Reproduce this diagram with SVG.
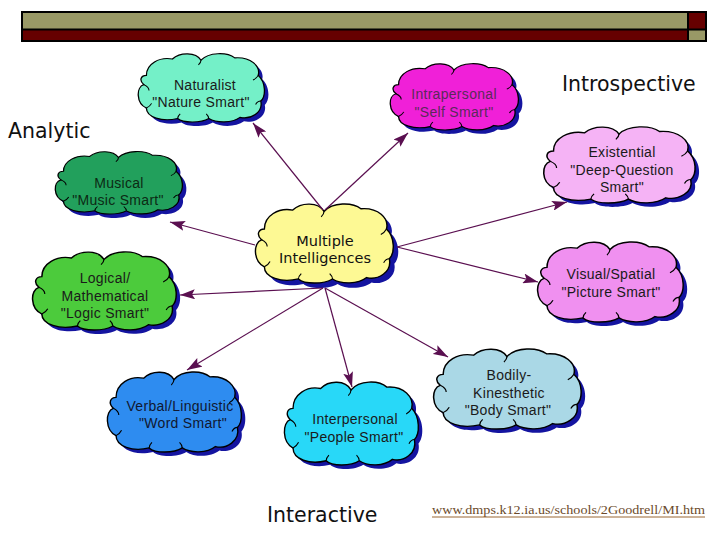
<svg xmlns="http://www.w3.org/2000/svg" xmlns:xlink="http://www.w3.org/1999/xlink" width="720" height="540" viewBox="0 0 720 540">
<style>
.cb{stroke:#000000;stroke-width:1;vector-effect:non-scaling-stroke}
.sh{fill:#1414a0;stroke:none}
.cr{fill:none;stroke:#000000;stroke-width:0.8;vector-effect:non-scaling-stroke}
.t{font-family:"Liberation Sans",Arial,sans-serif;font-size:14px;fill:#1a1a1a;text-anchor:middle;letter-spacing:0.3px}
.big{font-family:"DejaVu Sans",Verdana,sans-serif;font-size:20.5px;fill:#111111}
.mi{font-family:"DejaVu Sans",Verdana,sans-serif;font-size:14.5px;fill:#111111;text-anchor:middle}
.ln{stroke:#5a0f50;stroke-width:1.2;fill:none;marker-end:url(#ah)}
</style>
<defs>
<path id="cloud" d="M 8,20 C 8,10 18,4 28,6 C 34,0 46,0 50,7 C 56,0 70,0 76,5 C 88,4 96,12 94,20 C 100,26 100,38 96,42 C 98,52 88,58 80,56 C 74,61 62,61 56,57 C 50,61 36,61 32,57 C 20,60 8,56 8,48 C 0,44 0,30 6,28 C 2,24 4,20 8,20 Z"/>
<path id="crease" d="M 6,28 C 8,29 10,31 10,33 M 50,7 C 50,9 49,10 48,11 M 94,20 C 93,22 92,23 90,24 M 96,42 C 94,42 93,43 92,45 M 56,57 C 56,55 55,54 54,53 M 32,57 C 32,55 33,54 34,53 M 8,48 C 10,47 11,46 12,44"/>
<marker id="ah" viewBox="0 0 15 10" refX="15" refY="5" markerWidth="15" markerHeight="10" markerUnits="userSpaceOnUse" orient="auto">
<path d="M0,0 L15,5 L0,10 L3,5 Z" fill="#5a0f50"/>
</marker>
</defs>
<rect width="720" height="540" fill="#ffffff"/>
<g id="topbar">
<rect x="22" y="12" width="666" height="17" fill="#999966"/>
<rect x="22" y="29" width="666" height="12" fill="#660000"/>
<rect x="688" y="12" width="18" height="17" fill="#660000"/>
<rect x="688" y="29" width="18" height="12" fill="#999966"/>
<path d="M22,12 H706 V41 H22 Z M22,29.5 H706 M688,12 V41" fill="none" stroke="#000000" stroke-width="2"/>
</g>
<g id="naturalist">
<use xlink:href="#cloud" class="sh" transform="translate(140,56) scale(1.30,1.167)"/>
<use xlink:href="#cloud" class="cb" fill="#74f0c8" transform="translate(136,52) scale(1.30,1.167)"/>
<use xlink:href="#crease" class="cr" transform="translate(136,52) scale(1.30,1.167)"/>
<text class="t" x="205" y="90">Naturalist</text>
<text class="t" x="201" y="107">"Nature Smart"</text>
</g>
<g id="intrapersonal">
<use xlink:href="#cloud" class="sh" transform="translate(392,66) scale(1.32,1.133)"/>
<use xlink:href="#cloud" class="cb" fill="#f020d8" transform="translate(388,62) scale(1.32,1.133)"/>
<use xlink:href="#crease" class="cr" transform="translate(388,62) scale(1.32,1.133)"/>
<text class="t" x="454" y="99" style="fill:#5a2a5a">Intrapersonal</text>
<text class="t" x="454" y="117" style="fill:#5a2a5a">"Self Smart"</text>
</g>
<g id="existential">
<use xlink:href="#cloud" class="sh" transform="translate(545,129) scale(1.56,1.30)"/>
<use xlink:href="#cloud" class="cb" fill="#f5b3f5" transform="translate(541,125) scale(1.56,1.30)"/>
<use xlink:href="#crease" class="cr" transform="translate(541,125) scale(1.56,1.30)"/>
<text class="t" x="622" y="157">Existential</text>
<text class="t" x="622" y="175">"Deep-Question</text>
<text class="t" x="622" y="192">Smart"</text>
</g>
<g id="musical">
<use xlink:href="#cloud" class="sh" transform="translate(57,154) scale(1.31,1.067)"/>
<use xlink:href="#cloud" class="cb" fill="#22a05c" transform="translate(53,150) scale(1.31,1.067)"/>
<use xlink:href="#crease" class="cr" transform="translate(53,150) scale(1.31,1.067)"/>
<text class="t" x="119" y="188" style="fill:#0c2a14">Musical</text>
<text class="t" x="118" y="205" style="fill:#0c2a14">"Music Smart"</text>
</g>
<g id="multiple">
<use xlink:href="#cloud" class="sh" transform="translate(258,207) scale(1.42,1.35)"/>
<use xlink:href="#cloud" class="cb" fill="#fdf994" transform="translate(253,202) scale(1.42,1.35)"/>
<use xlink:href="#crease" class="cr" transform="translate(253,202) scale(1.42,1.35)"/>
<text class="mi" x="325" y="246">Multiple</text>
<text class="mi" x="325" y="263">Intelligences</text>
</g>
<g id="logical">
<use xlink:href="#cloud" class="sh" transform="translate(34,254) scale(1.48,1.333)"/>
<use xlink:href="#cloud" class="cb" fill="#4ccb3c" transform="translate(30,250) scale(1.48,1.333)"/>
<use xlink:href="#crease" class="cr" transform="translate(30,250) scale(1.48,1.333)"/>
<text class="t" x="105" y="283">Logical/</text>
<text class="t" x="105" y="301">Mathematical</text>
<text class="t" x="105" y="318">"Logic Smart"</text>
</g>
<g id="visual">
<use xlink:href="#cloud" class="sh" transform="translate(539,244) scale(1.50,1.367)"/>
<use xlink:href="#cloud" class="cb" fill="#f090f0" transform="translate(535,240) scale(1.50,1.367)"/>
<use xlink:href="#crease" class="cr" transform="translate(535,240) scale(1.50,1.367)"/>
<text class="t" x="611" y="279">Visual/Spatial</text>
<text class="t" x="611" y="297">"Picture Smart"</text>
</g>
<g id="bodily">
<use xlink:href="#cloud" class="sh" transform="translate(435,351) scale(1.52,1.367)"/>
<use xlink:href="#cloud" class="cb" fill="#aad8e6" transform="translate(431,347) scale(1.52,1.367)"/>
<use xlink:href="#crease" class="cr" transform="translate(431,347) scale(1.52,1.367)"/>
<text class="t" x="509" y="380">Bodily-</text>
<text class="t" x="509" y="398">Kinesthetic</text>
<text class="t" x="508" y="415">"Body Smart"</text>
</g>
<g id="verbal">
<use xlink:href="#cloud" class="sh" transform="translate(109,374) scale(1.38,1.367)"/>
<use xlink:href="#cloud" class="cb" fill="#2e8cf0" transform="translate(105,370) scale(1.38,1.367)"/>
<use xlink:href="#crease" class="cr" transform="translate(105,370) scale(1.38,1.367)"/>
<text class="t" x="180" y="411" style="fill:#101830">Verbal/Linguistic</text>
<text class="t" x="183" y="428" style="fill:#101830">"Word Smart"</text>
</g>
<g id="interpersonal">
<use xlink:href="#cloud" class="sh" transform="translate(286,384) scale(1.38,1.417)"/>
<use xlink:href="#cloud" class="cb" fill="#28d8f8" transform="translate(282,380) scale(1.38,1.417)"/>
<use xlink:href="#crease" class="cr" transform="translate(282,380) scale(1.38,1.417)"/>
<text class="t" x="355" y="424">Interpersonal</text>
<text class="t" x="354" y="442">"People Smart"</text>
</g>
<g id="connectors">
<line class="ln" x1="323" y1="210" x2="253" y2="123"/>
<line class="ln" x1="325" y1="210" x2="408" y2="133"/>
<line class="ln" x1="397" y1="247" x2="567" y2="202"/>
<line class="ln" x1="397" y1="247" x2="538" y2="282"/>
<line class="ln" x1="255" y1="245" x2="170" y2="222"/>
<line class="ln" x1="323" y1="288" x2="180" y2="295"/>
<line class="ln" x1="323" y1="288" x2="187" y2="370"/>
<line class="ln" x1="325" y1="288" x2="352" y2="387"/>
<line class="ln" x1="325" y1="288" x2="448" y2="357"/>
</g>
<g id="labels">
<text class="big" x="8" y="138">Analytic</text>
<text class="big" x="562" y="91">Introspective</text>
<text class="big" x="267" y="522">Interactive</text>
<text x="432" y="514" font-family="'Liberation Serif','Times New Roman',serif" font-size="13" fill="#6b4a2a" textLength="273" lengthAdjust="spacingAndGlyphs">www.dmps.k12.ia.us/schools/2Goodrell/MI.htm</text>
<line x1="432" y1="517" x2="705" y2="517" stroke="#996633" stroke-width="1"/>
</g>
</svg>
